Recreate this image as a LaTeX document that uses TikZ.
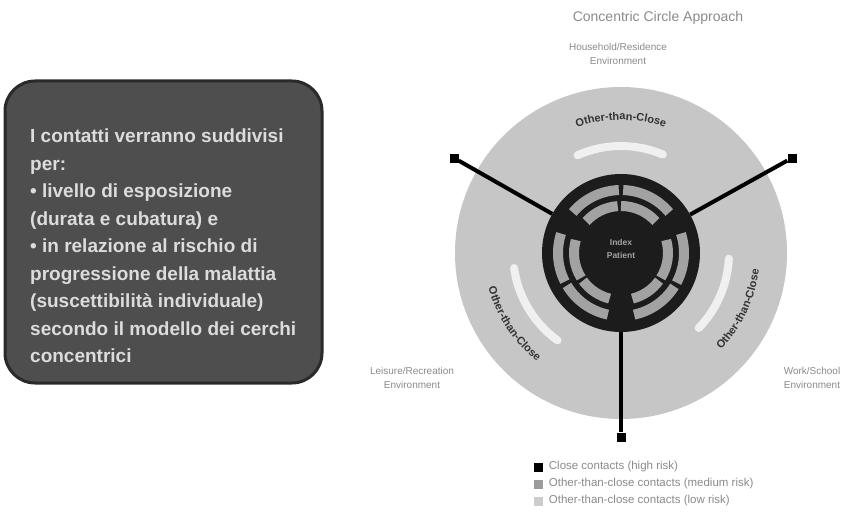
\documentclass[tikz,border=0pt]{standalone}
\usepackage{fontspec}
\setmainfont{Liberation Sans}
\usetikzlibrary{decorations.text}
\definecolor{panelfill}{HTML}{4E4E4E}
\definecolor{paneldraw}{HTML}{2A2A2A}
\definecolor{paneltext}{HTML}{DCDCDC}
\definecolor{ringlight}{HTML}{C6C6C6}
\definecolor{ringdark}{HTML}{1C1C1C}
\definecolor{segcol}{HTML}{A2A2A2}
\definecolor{arcdark}{HTML}{333333}
\definecolor{labelgray}{HTML}{8A8A8A}
\definecolor{legmed}{HTML}{9C9C9C}
\definecolor{leglow}{HTML}{CCCCCC}
\begin{document}
\begin{tikzpicture}[x=1pt,y=1pt,
  panel/.style={draw=paneldraw, line width=3pt, fill=panelfill, rounded corners=30pt,
    minimum width=317pt, minimum height=302pt, inner sep=0pt},
  paneltxt/.style={text=paneltext, font=\fontsize{19}{27.5}\selectfont\bfseries,
    align=left, inner sep=0pt},
  bigdisc/.style={circle, fill=ringlight, minimum size=332pt, inner sep=0pt},
  darkdisc/.style={circle, fill=ringdark, minimum size=158pt, inner sep=0pt},
  seg/.style={segcol, line width=10pt},
  softband/.style={white, opacity=0.75, line width=8pt, line cap=round},
  conn/.style={black, line width=4pt},
  endsq/.style={fill=black, minimum size=9pt, inner sep=0pt},
  ttl/.style={text=labelgray, font=\fontsize{14}{16}\selectfont},
  envlbl/.style={text=labelgray, font=\fontsize{10}{14}\selectfont, align=center},
  legsq/.style={minimum size=9pt, inner sep=0pt},
  legtxt/.style={text=labelgray, font=\fontsize{11.5}{13}\selectfont, anchor=west, inner sep=0pt},
  ctrtxt/.style={text=segcol, font=\fontsize{8.5}{10}\selectfont\bfseries, inner sep=0pt}
]
\useasboundingbox (0,0) rectangle (855,-519);

% left panel
\node[panel] (panel) at (163.5,-232) {};
\node[paneltxt, anchor=north west] (ptext) at (30,-129) {I contatti verranno suddivisi\\per:\\• livello di esposizione\\(durata e cubatura) e\\• in relazione al rischio di\\progressione della malattia\\(suscettibilità individuale)\\secondo il modello dei cerchi\\concentrici};

% title and environment labels
\node[ttl] (title) at (658,-18) {Concentric Circle Approach};
\node[envlbl] (home) at (618,-54) {Household/Residence\\Environment};
\node[envlbl] (leis) at (412,-378) {Leisure/Recreation\\Environment};
\node[envlbl] (work) at (812,-378) {Work/School\\Environment};

% concentric circles
\coordinate (C) at (621,-253);
\node[bigdisc] (outer) at (C) {};

% soft white bands
\draw[softband] ([shift={(114:107)}]C) arc[start angle=114, end angle=67, radius=107];
\draw[softband] ([shift={(188:108)}]C) arc[start angle=188, end angle=234, radius=108];
\draw[softband] ([shift={(-44:108)}]C) arc[start angle=-44, end angle=-3, radius=108];

% dark arc texts
\path[decorate, decoration={text along path, text align=center, text color=arcdark,
  text={|\fontsize{11}{12}\selectfont\bfseries|Other-than-Close}}]
  ([shift={(113:133)}]C) arc[start angle=113, end angle=67, radius=133];
\path[decorate, decoration={text along path, text align=center, text color=arcdark,
  text={|\fontsize{11}{12}\selectfont\bfseries|Other-than-Close}}]
  ([shift={(188:137)}]C) arc[start angle=188, end angle=239, radius=137];
\path[decorate, decoration={text along path, text align=center, text color=arcdark,
  text={|\fontsize{11}{12}\selectfont\bfseries|Other-than-Close}}]
  ([shift={(-50:139)}]C) arc[start angle=-50, end angle=-1, radius=139];

% inner dark disc with segments
\node[darkdisc] (inner) at (C) {};
\foreach \a/\b in {92/140, 40/88, 162/207, 211/258, -78/-32, -28/18} {
  \draw[seg] ([shift={(\a:63)}]C) arc[start angle=\a, end angle=\b, radius=63];
}
\foreach \a/\b in {94/138, 42/90, 164/212, 216/256, -76/-36, -32/16} {
  \draw[seg] ([shift={(\a:47)}]C) arc[start angle=\a, end angle=\b, radius=47];
}
\node[ctrtxt] (idx) at (621,-242) {Index};
\node[ctrtxt] (pat) at (621,-255) {Patient};

% connectors
\node[endsq] (sqL) at (454,-158) {};
\node[endsq] (sqR) at (792,-158) {};
\node[endsq] (sqB) at (621,-437) {};
\draw[conn] (inner) -- (sqL);
\draw[conn] (inner) -- (sqR);
\draw[conn] (inner) -- (sqB);

% legend
\node[legsq, fill=black] (lg1) at (538,-467) {};
\node[legsq, fill=legmed] (lg2) at (538,-484) {};
\node[legsq, fill=leglow] (lg3) at (538,-501) {};
\node[legtxt] (lt1) at ([xshift=6pt]lg1.east) {Close contacts (high risk)};
\node[legtxt] (lt2) at ([xshift=6pt]lg2.east) {Other-than-close contacts (medium risk)};
\node[legtxt] (lt3) at ([xshift=6pt]lg3.east) {Other-than-close contacts (low risk)};
\end{tikzpicture}
\end{document}
